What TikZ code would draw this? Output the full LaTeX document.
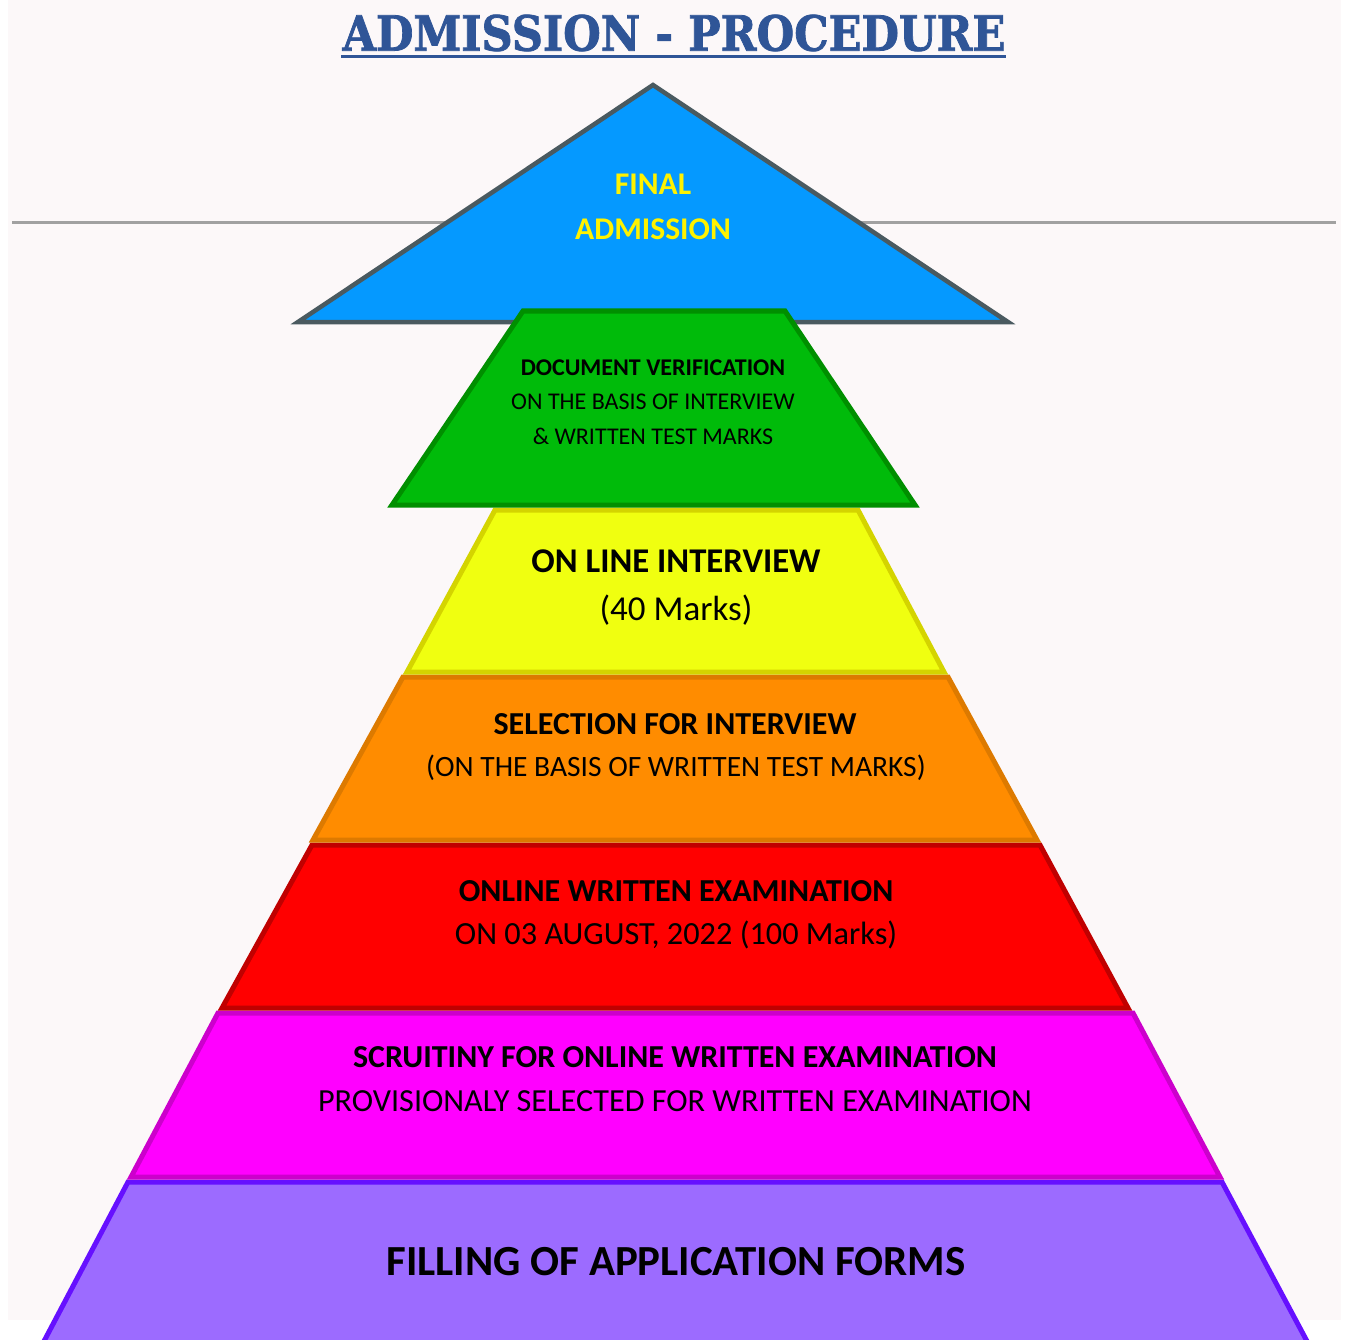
\documentclass[tikz,border=0pt]{standalone}
\usepackage{fontspec}
\setmainfont{Carlito}
\newfontfamily\titlefont[BoldFeatures={FakeBold=1.6}]{DejaVu Serif}
\definecolor{bgc}{HTML}{FCF8F9}
\definecolor{titleblue}{HTML}{2F5597}
\definecolor{trifill}{HTML}{0599FF}
\definecolor{tridraw}{HTML}{4A5A60}
\definecolor{grfill}{HTML}{00BB0A}
\definecolor{grdraw}{HTML}{008F00}
\definecolor{yefill}{HTML}{F0FF10}
\definecolor{yedraw}{HTML}{D4D400}
\definecolor{orfill}{HTML}{FF8C00}
\definecolor{ordraw}{HTML}{DD7A00}
\definecolor{refill}{HTML}{FF0000}
\definecolor{redraw}{HTML}{C00000}
\definecolor{mafill}{HTML}{FF00FF}
\definecolor{madraw}{HTML}{CC00CC}
\definecolor{pufill}{HTML}{9C6BFF}
\definecolor{pudraw}{HTML}{6610FF}
\newcommand{\fs}[1]{\fontsize{#1}{#1}\selectfont}
\tikzset{
  band/.style={line width=5pt, line join=miter},
  txt/.style={inner sep=0pt, anchor=center, text=black},
}
\begin{document}
\begin{tikzpicture}[x=1pt,y=-1pt]
\useasboundingbox (0,0) rectangle (1349,1340);
\fill[white] (0,0) rectangle (1349,1340);
\fill[bgc] (8,0) rectangle (1341,1320);
% title
\node[inner sep=0pt, text=titleblue] (title) at (674,33) {\resizebox{663pt}{36pt}{\titlefont\bfseries\fs{48}ADMISSION - PROCEDURE}};
\draw[titleblue, line width=3pt] (341,57) -- (1006,57);
% gray rule
\draw[black!37, line width=3pt] (12,223) -- (1336,223);
% top triangle
\draw[line width=4.5pt, draw=tridraw, fill=trifill, line join=miter] (653,85) -- (1008,322) -- (298,322) -- cycle;
% bands
\draw[band, draw=pudraw, fill=pufill] (128,1182) -- (1222,1182) -- (1309,1345) -- (42,1345) -- cycle;
\draw[band, draw=madraw, fill=mafill] (218,1013) -- (1133,1013) -- (1220,1177) -- (131,1177) -- cycle;
\draw[band, draw=redraw, fill=refill] (312,845) -- (1040,845) -- (1128,1008) -- (222,1008) -- cycle;
\draw[band, draw=ordraw, fill=orfill] (403,677) -- (948,677) -- (1037,840) -- (313,840) -- cycle;
\draw[band, draw=yedraw, fill=yefill] (495,510) -- (858,510) -- (944,672) -- (407,672) -- cycle;
\draw[band, draw=grdraw, fill=grfill] (523,311) -- (785,311) -- (915,505) -- (392,505) -- cycle;
% texts
\node[txt, text=yellow, font=\bfseries\fs{31.6}] (t1a) at (653,184) {FINAL};
\node[txt, text=yellow, font=\bfseries\fs{31.6}] (t1b) at (653,229) {ADMISSION};
\node[txt, font=\bfseries\fs{24}] (t2a) at (653,368) {DOCUMENT VERIFICATION};
\node[txt, font=\fs{24}] (t2b) at (653,402) {ON THE BASIS OF INTERVIEW};
\node[txt, font=\fs{24}] (t2c) at (653,436) {\& WRITTEN TEST MARKS};
\node[txt, font=\bfseries\fs{34.7}] (t3a) at (676,561) {ON LINE INTERVIEW};
\node[txt, font=\fs{35}] (t3b) at (676,610) {(40 Marks)};
\node[txt, font=\bfseries\fs{32}] (t4a) at (675,724) {SELECTION FOR INTERVIEW};
\node[txt, font=\fs{29.5}] (t4b) at (676,768) {(ON THE BASIS OF WRITTEN TEST MARKS)};
\node[txt, font=\bfseries\fs{32}] (t5a) at (676,891) {ONLINE WRITTEN EXAMINATION};
\node[txt, font=\fs{32.3}] (t5b) at (676,935) {ON 03 AUGUST, 2022 (100 Marks)};
\node[txt, font=\bfseries\fs{32}] (t6a) at (675,1057) {SCRUITINY FOR ONLINE WRITTEN EXAMINATION};
\node[txt, font=\fs{32.2}] (t6b) at (675,1101) {PROVISIONALY SELECTED FOR WRITTEN EXAMINATION};
\node[txt, font=\bfseries\fs{42.9}] (t7) at (676,1262) {FILLING OF APPLICATION FORMS};
\end{tikzpicture}
\end{document}
